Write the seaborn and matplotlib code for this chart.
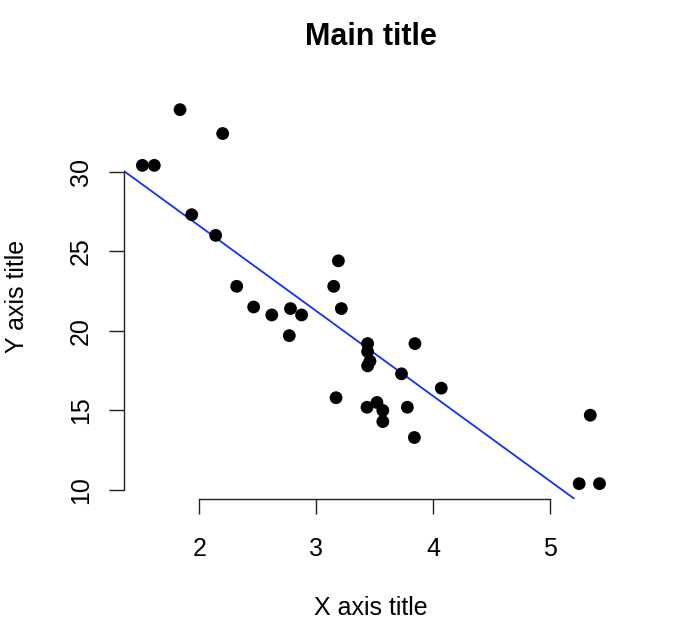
import numpy as np
import pandas as pd
import matplotlib
matplotlib.use("Agg")
import matplotlib.pyplot as plt
import seaborn as sns

wt = [2.620, 2.875, 2.320, 3.215, 3.440, 3.460, 3.570, 3.190, 3.150, 3.440,
      3.440, 4.070, 3.730, 3.780, 5.250, 5.424, 5.345, 2.200, 1.615, 1.835,
      2.465, 3.520, 3.435, 3.840, 3.845, 1.935, 2.140, 1.513, 3.170, 2.770,
      3.570, 2.780]
mpg = [21.0, 21.0, 22.8, 21.4, 18.7, 18.1, 14.3, 24.4, 22.8, 19.2,
       17.8, 16.4, 17.3, 15.2, 10.4, 10.4, 14.7, 32.4, 30.4, 33.9,
       21.5, 15.5, 15.2, 13.3, 19.2, 27.3, 26.0, 30.4, 15.8, 19.7,
       15.0, 21.4]
x_ticks = [2, 3, 4, 5]
y_ticks = [10, 15, 20, 25, 30]

df = pd.DataFrame({"wt": wt, "mpg": mpg})

sns.set_theme(style="white")
plt.rcParams['font.family'] = ['Liberation Sans', 'DejaVu Sans']
plt.rcParams['text.color'] = 'black'
plt.rcParams['axes.labelcolor'] = 'black'

fig = plt.figure(figsize=(6.82, 6.26), dpi=100)
W, H = 682, 626
left, right, top, bottom = 124.1, 617.8, 94.7, 498.6
ax = fig.add_axes([left / W, 1 - bottom / H, (right - left) / W, (bottom - top) / H])

sns.scatterplot(data=df, x="wt", y="mpg", ax=ax, color="black", s=85,
                edgecolor="none", linewidth=0, zorder=3)

xr = max(wt) - min(wt)
yr = max(mpg) - min(mpg)
ax.set_xlim(min(wt) - 0.04 * xr, max(wt) + 0.04 * xr)
ax.set_ylim(min(mpg) - 0.04 * yr, max(mpg) + 0.04 * yr)

slope, intercept = np.polyfit(wt, mpg, 1)
ax.axline((0, intercept), slope=slope, color="#1030ff", lw=1.3, zorder=2)

for s in ["top", "right"]:
    ax.spines[s].set_visible(False)
ax.spines["left"].set_bounds(min(y_ticks), max(y_ticks))
ax.spines["bottom"].set_bounds(min(x_ticks), max(x_ticks))
for s in ["left", "bottom"]:
    ax.spines[s].set_color("#222222")
    ax.spines[s].set_linewidth(1.0)

ax.set_xticks(x_ticks)
ax.set_yticks(y_ticks)
ax.set_xticklabels([str(v) for v in x_ticks])
ax.set_yticklabels([str(v) for v in y_ticks], rotation=90, va="center")
ax.tick_params(axis="both", direction="out", length=11, width=1.0,
               color="#222222", labelsize=18, labelcolor="black",
               bottom=True, left=True)
ax.tick_params(axis="x", pad=16.5)
ax.tick_params(axis="y", pad=11.4)

ax.set_xlabel("X axis title", fontsize=18, labelpad=25, color="black")
ax.set_ylabel("Y axis title", fontsize=18, labelpad=28.5, color="black")
ax.set_title("Main title", fontsize=22, fontweight="bold", pad=36, color="black")
ax.grid(False)

fig.savefig("out.png", dpi=100)
